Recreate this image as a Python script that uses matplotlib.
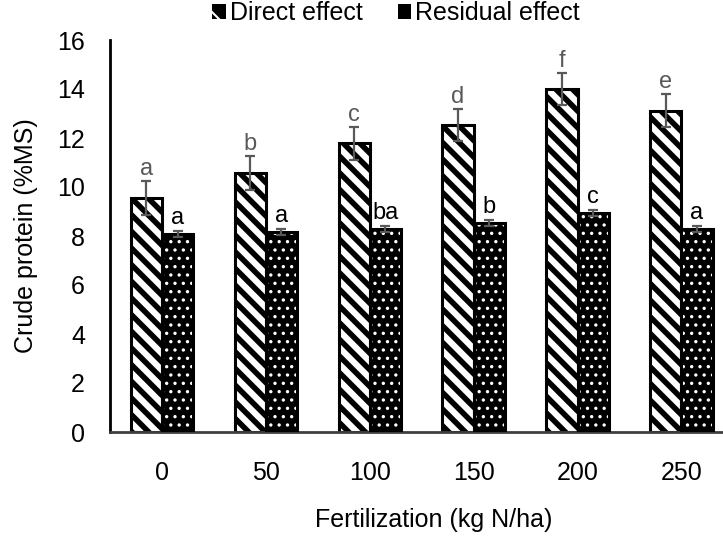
import matplotlib
matplotlib.use("Agg")
import matplotlib.pyplot as plt
from matplotlib.patches import Patch
import numpy as np

categories = ["0", "50", "100", "150", "200", "250"]
direct = [9.55, 10.56, 11.78, 12.53, 14.0, 13.11]
direct_err = [0.69, 0.69, 0.67, 0.65, 0.65, 0.67]
residual = [8.08, 8.15, 8.27, 8.52, 8.93, 8.27]
residual_err = [0.12, 0.12, 0.12, 0.12, 0.12, 0.12]
direct_letters = ["a", "b", "c", "d", "f", "e"]
residual_letters = ["a", "a", "ba", "b", "c", "a"]

plt.rcParams['font.family'] = ['Liberation Sans', 'DejaVu Sans']
plt.rcParams['hatch.linewidth'] = 4.0

fig = plt.figure(figsize=(7.23, 5.37), dpi=100)
ax = fig.add_axes([110/723, 105/537, 613/723, 392/537])

x = np.arange(len(categories))
w = 0.3
gray = '#595959'

# Direct effect: white with black diagonal stripes
b1 = ax.bar(x - w/2, direct, w, color='white', edgecolor='black', hatch='\\\\', linewidth=2.2, zorder=2)

# Residual effect: black with white dots
b2 = ax.bar(x + w/2, residual, w, color='black', edgecolor='white', hatch='..', linewidth=0, zorder=2)
for p in b2:
    if hasattr(p, 'set_hatch_linewidth'):
        p.set_hatch_linewidth(1.2)
ax.bar(x + w/2, residual, w, fill=False, edgecolor='black', linewidth=2.2, zorder=3)

ax.errorbar(x - w/2, direct, yerr=direct_err, fmt='none', ecolor=gray, elinewidth=1.6, capsize=3.5, capthick=1.6, zorder=4)
ax.errorbar(x + w/2, residual, yerr=residual_err, fmt='none', ecolor=gray, elinewidth=1.6, capsize=3.5, capthick=1.6, zorder=4)

for xi, v, e, t in zip(x - w/2, direct, direct_err, direct_letters):
    ax.text(xi, v + e + 0.05, t, ha='center', va='bottom', fontsize=17, color=gray)
for xi, v, e, t in zip(x + w/2, residual, residual_err, residual_letters):
    ax.text(xi, v + e + 0.1, t, ha='center', va='bottom', fontsize=17, color='black')

ax.set_xlim(-0.5, 5.4)
ax.set_ylim(0, 16)
ax.set_yticks(np.arange(0, 17, 2))
ax.set_xticks(x)
ax.set_xticklabels(categories)
ax.tick_params(axis='both', length=0, labelsize=18)
ax.tick_params(axis='x', pad=21)
ax.tick_params(axis='y', pad=18)

for s in ['top', 'right']:
    ax.spines[s].set_visible(False)
ax.spines['left'].set_linewidth(2)
ax.spines['left'].set_color('black')
ax.spines['bottom'].set_linewidth(2)
ax.spines['bottom'].set_color('#404040')

ax.set_ylabel("Crude protein (%MS)", fontsize=18, labelpad=14)
fig.text(434/723, 1 - 520/537, "Fertilization (kg N/ha)", ha='center', va='center', fontsize=18)

h1 = Patch(facecolor='black', edgecolor='white', hatch='\\', linewidth=0)
h2 = Patch(facecolor='black', edgecolor='black', linewidth=0)
leg = fig.legend([h1, h2], ["Direct effect", "Residual effect"], loc='center',
                 bbox_to_anchor=(396/723, 1 - 13/537), ncol=2, frameon=False, fontsize=18,
                 handlelength=0.55, handleheight=0.55, handletextpad=0.15, columnspacing=1.4,
                 borderpad=0, borderaxespad=0)
for lh in leg.legend_handles:
    if hasattr(lh, 'set_hatch_linewidth'):
        lh.set_hatch_linewidth(1.5)

fig.savefig("out.png", dpi=100)
